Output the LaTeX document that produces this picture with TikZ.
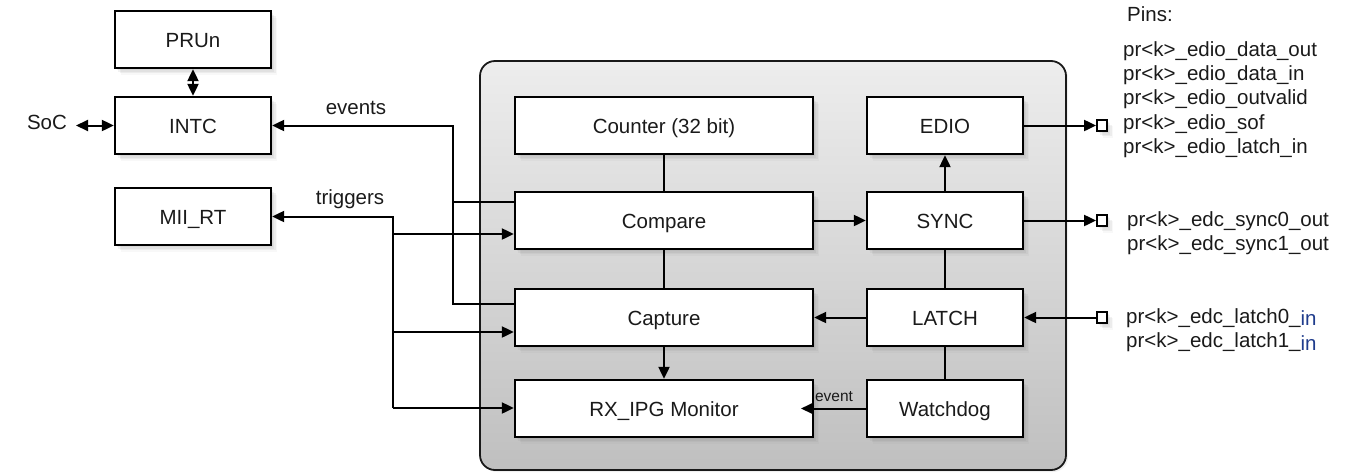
\documentclass[tikz,border=0pt]{standalone}
\usepackage{fontspec}
\setmainfont{Liberation Sans}
\usetikzlibrary{arrows.meta,shadows,calc}
\definecolor{inblue}{HTML}{1F3C8C}
\definecolor{txt}{HTML}{1A1A1A}
\tikzset{
  softshadow/.style={
    drop shadow={opacity=0.10, shadow xshift=1.5pt, shadow yshift=-2pt},
    drop shadow={opacity=0.10, shadow xshift=3pt, shadow yshift=-3.5pt},
    drop shadow={opacity=0.10, shadow xshift=4.5pt, shadow yshift=-5pt},
    drop shadow={opacity=0.06, shadow xshift=6pt, shadow yshift=-6.5pt}},
  blk/.style={draw=black, line width=2.3pt, fill=white, inner sep=0pt,
    minimum width=156pt, minimum height=57pt, text=txt,
    text height=15pt, text depth=0pt,
    font=\fontsize{20.5}{24}\selectfont, softshadow},
  wideblk/.style={blk, minimum width=298pt},
  core/.style={draw=black!90, line width=1.8pt, rounded corners=15pt,
    top color=black!7, bottom color=black!25, minimum width=586pt,
    minimum height=409pt, inner sep=0pt,
    drop shadow={opacity=0.12, shadow xshift=2pt, shadow yshift=-2pt}},
  pin/.style={draw=black, line width=1.8pt, fill=white, inner sep=0pt,
    minimum width=10pt, minimum height=11.5pt, softshadow},
  con/.style={line width=2pt, draw=black},
  arr/.style={con, -{Triangle[length=12pt,width=11pt]}},
  dbl/.style={con, {Triangle[length=12pt,width=11pt]}-{Triangle[length=12pt,width=11pt]}},
  lbl/.style={text=txt, font=\fontsize{20.5}{24}\selectfont, inner sep=0pt},
  pintxt/.style={lbl, anchor=west, text height=15pt, text depth=5pt}
}
\newcommand{\inx}{\raisebox{-2.5pt}{\textcolor{inblue}{in}}}
\begin{document}
\begin{tikzpicture}[x=1pt,y=-1pt]
\useasboundingbox (0,0) rectangle (1346,472);

% core
\node[core] (core) at (773,265.5) {};

% left column
\node[blk] (pru) at (193,39.5) {PRUn};
\node[blk] (intc) at (193,125.5) {INTC};
\node[blk] (mii) at (193,216.5) {MII\_RT};

% inner blocks
\node[wideblk] (counter) at (664,125.5) {Counter (32 bit)};
\node[wideblk] (compare) at (664,220.5) {Compare};
\node[wideblk] (capture) at (664,317.5) {Capture};
\node[wideblk] (rx) at (664,408.5) {RX\_IPG Monitor};
\node[blk] (edio) at (945,125.5) {EDIO};
\node[blk] (sync) at (945,220.5) {SYNC};
\node[blk] (latch) at (945,317.5) {LATCH};
\node[blk] (wd) at (945,408.5) {Watchdog};

% pins
\node[pin] (p1) at (1102,125.5) {};
\node[pin] (p2) at (1102,220.5) {};
\node[pin] (p3) at (1102,317.5) {};

% labels
\node[lbl] (soc) at (47,122) {SoC};
\node[lbl] (evlbl) at (356,108) {events};
\node[lbl] (trlbl) at (350,199) {triggers};
\node[text=txt, font=\fontsize{15.5}{18}\selectfont, inner sep=0pt] (evsmall) at (834,397) {event};

\node[pintxt] (pins) at (1127,16) {Pins:};
\node[pintxt] (t1) at (1123,51) {pr<k>\_edio\_data\_out};
\node[pintxt] (t2) at (1123,75.5) {pr<k>\_edio\_data\_in};
\node[pintxt] (t3) at (1123,99.5) {pr<k>\_edio\_outvalid};
\node[pintxt] (t4) at (1123,124) {pr<k>\_edio\_sof};
\node[pintxt] (t5) at (1123,148.5) {pr<k>\_edio\_latch\_in};
\node[pintxt] (t6) at (1127,221) {pr<k>\_edc\_sync0\_out};
\node[pintxt] (t7) at (1127,245.5) {pr<k>\_edc\_sync1\_out};
\node[pintxt] (t8) at (1126,318) {pr<k>\_edc\_latch0\_\inx};
\node[pintxt] (t9) at (1126,342.5) {pr<k>\_edc\_latch1\_\inx};

% coordinates
\coordinate (socend) at (76,125.5);
\coordinate (ev2) at (453,202);
\coordinate (ev3) at (453,304);
\coordinate (tr1) at (393,234);
\coordinate (tr2) at (393,332);
\coordinate (tr3) at (393,408);
\coordinate (evend) at (801,408.5);

% connectors left
\draw[dbl] (pru) -- (intc);
\draw[dbl] (socend) -- (intc.west);
\draw[arr] (ev3 -| capture.west) -- (ev3) |- (intc.east);
\draw[con] (ev2) -- (ev2 -| compare.west);
\draw[arr] (tr3) |- (mii.east);
\draw[arr] (tr1) -- (tr1 -| compare.west);
\draw[arr] (tr2) -- (tr2 -| capture.west);
\draw[arr] (tr3) -- (tr3 -| rx.west);

% inner connectors
\draw[con] (counter) -- (compare);
\draw[con] (compare) -- (capture);
\draw[arr] (capture) -- (rx);
\draw[arr] (compare) -- (sync);
\draw[arr] (sync) -- (edio);
\draw[con] (latch) -- (sync);
\draw[con] (wd) -- (latch);
\draw[arr] (latch) -- (capture);
\draw[arr] (wd.west) -- (evend);

% pins connectors
\draw[arr] (edio.east) -- (p1.west);
\draw[arr] (sync.east) -- (p2.west);
\draw[arr] (p3.west) -- (latch.east);
\end{tikzpicture}
\end{document}
